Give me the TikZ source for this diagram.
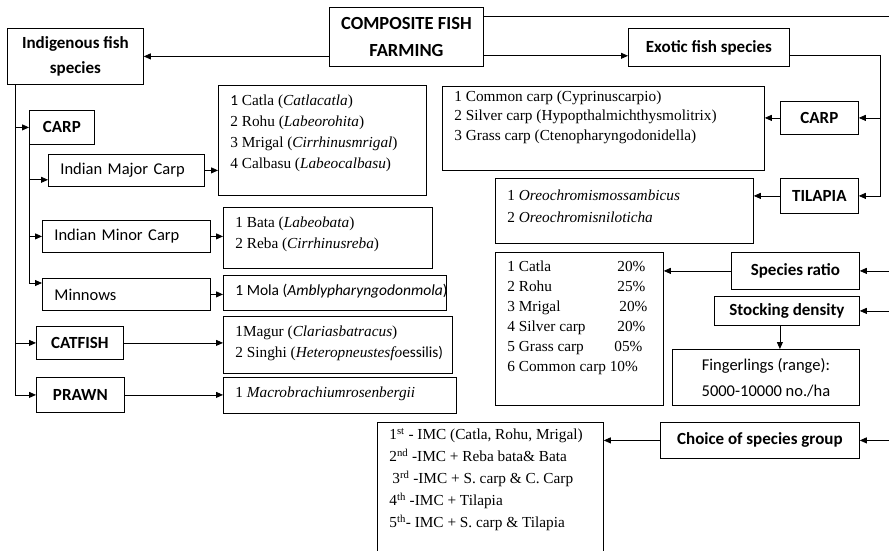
\documentclass[tikz,border=0pt]{standalone}
\usepackage{fontspec}
\setmainfont{Liberation Serif}
\newfontfamily\calibri{Carlito}
\usetikzlibrary{arrows.meta}

% top-aligned text block of fixed height inside a species box
\newcommand{\fishlist}[3]{\parbox[t][#1][t]{#2}{\raggedright\strut#3}}

\begin{document}
\begin{tikzpicture}[
  x=1pt, y=-1pt,
  box/.style={draw, line width=0.8pt, anchor=north west, inner sep=0pt},
  head/.style={box, align=center, font=\calibri\bfseries\fontsize{17}{25}\selectfont},
  note/.style={head, font=\calibri\fontsize{16.5}{26}\selectfont},
  group/.style={box, align=left, inner xsep=12pt, font=\calibri\fontsize{16.5}{20}\selectfont},
  species/.style={box, inner xsep=12pt, inner ysep=5pt, font=\fontsize{15.3}{21}\selectfont},
  feed/.style={line width=0.8pt, -{Triangle[length=7pt,width=6pt]}},
  rail/.style={line width=0.8pt}
]
  \clip (0,0) rectangle (889,550);
  \coordinate (rim) at (889,16);

  % main heads
  \node[head, font=\calibri\bfseries\fontsize{18.5}{27}\selectfont, minimum width=154pt, minimum height=59pt] (farming) at (329,7) {COMPOSITE FISH\\FARMING};
  \node[head, minimum width=136pt, minimum height=56pt] (indigenous) at (7,28) {Indigenous fish\\species};
  \node[head, minimum width=161pt, minimum height=38pt] (exotic) at (628,28) {Exotic fish species};

  % indigenous side
  \node[head, minimum width=65pt, minimum height=34pt] (carp) at (29,110) {CARP};
  \node[group, text width=132pt, minimum height=32pt] (majorcarp) at (48,154) {Indian Major Carp};
  \node[group, text width=144pt, minimum height=32pt] (minorcarp) at (42,220) {Indian Minor Carp};
  \node[group, text width=144pt, minimum height=32pt] (minnows) at (42,278) {Minnows};
  \node[head, minimum width=87pt, minimum height=33pt] (catfish) at (36,326) {CATFISH};
  \node[head, minimum width=88pt, minimum height=35pt] (prawn) at (36,377) {PRAWN};

  \node[species] (majorlist) at (218,85) {\fishlist{100pt}{184pt}{%
    {\calibri 1} Catla (\textit{Catlacatla})\\
    2 Rohu (\textit{Labeorohita})\\
    3 Mrigal (\textit{Cirrhinusmrigal})\\
    4 Calbasu (\textit{Labeocalbasu})}};
  \node[species] (minorlist) at (223,207) {\fishlist{51pt}{185pt}{%
    1 Bata (\textit{Labeobata})\\
    2 Reba (\textit{Cirrhinusreba})}};
  \node[species, font=\calibri\fontsize{15.5}{21}\selectfont] (molalist) at (223,275) {\fishlist{25pt}{199pt}{%
    \mbox{1 Mola (\textit{Amblypharyngodonmola})}}};
  \node[species] (catfishlist) at (223,316) {\fishlist{47pt}{205pt}{%
    1Magur (\textit{Clariasbatracus})\\
    \mbox{2 Singhi (\textit{Heteropneustesfo}{\calibri essilis)}}}};
  \node[species] (prawnlist) at (223,377) {\fishlist{26pt}{209pt}{%
    1 \textit{Macrobrachiumrosenbergii}}};

  % exotic side
  \node[head, minimum width=78pt, minimum height=33pt] (exocarp) at (780,101) {CARP};
  \node[head, minimum width=78pt, minimum height=35pt] (tilapia) at (780,178) {TILAPIA};
  \node[species, inner ysep=1pt, font=\fontsize{15.3}{19.5}\selectfont] (carplist) at (442,86) {\fishlist{82pt}{298pt}{%
    1 Common carp (Cyprinuscarpio)\\
    2 Silver carp (Hypopthalmichthysmolitrix)\\
    3 Grass carp (Ctenopharyngodonidella)}};
  \node[species, inner ysep=7pt, font=\fontsize{15.3}{22}\selectfont] (tilapialist) at (495,178) {\fishlist{51pt}{234pt}{%
    1 \textit{Oreochromismossambicus}\\
    2 \textit{Oreochromisniloticha}}};

  % management
  \node[head, minimum width=128pt, minimum height=37pt] (ratio) at (731,252) {Species ratio};
  \node[head, minimum width=145pt, minimum height=29pt] (stocking) at (714,296) {Stocking density};
  \node[note, minimum width=187pt, minimum height=56pt] (fingerlings) at (672,349) {Fingerlings (range):\\5000-10000 no./ha};
  \node[head, minimum width=199pt, minimum height=36pt] (choice) at (660,422) {Choice of species group};

  \node[species, font=\fontsize{15.3}{20}\selectfont] (ratiolist) at (495,252) {\fishlist{143pt}{144pt}{%
    \makebox[110pt][l]{1 Catla}20\%\\
    \makebox[110pt][l]{2 Rohu}25\%\\
    \makebox[112pt][l]{3 Mrigal}20\%\\
    \makebox[110pt][l]{4 Silver carp}20\%\\
    \makebox[107pt][l]{5 Grass carp}05\%\\
    6 Common carp 10\%}};
  \node[species, inner ysep=2pt, font=\fontsize{15.3}{22}\selectfont] (imclist) at (377,422) {\fishlist{128pt}{202pt}{%
    1\textsuperscript{st} - IMC (Catla, Rohu, Mrigal)\\
    2\textsuperscript{nd} -IMC + Reba bata\& Bata\\
    \hspace*{3pt}3\textsuperscript{rd} -IMC + S. carp \& C. Carp\\
    4\textsuperscript{th} -IMC + Tilapia\\
    5\textsuperscript{th}- IMC + S. carp \& Tilapia}};

  % connectors from the centre
  \draw[feed] (farming.west |- indigenous.east) -- (indigenous.east);
  \draw[feed] ([yshift=11pt]farming.south east) -- ([yshift=11pt]farming.south east -| exotic.west);
  \draw[rail] (farming.north east |- rim) -- (rim);

  % indigenous rails
  \coordinate (majorin) at ([yshift=7pt]majorcarp.south west);
  \draw[feed] ([xshift=8pt]indigenous.south west) |- (prawn.west);
  \draw[feed] ([xshift=8pt]indigenous.south west |- carp.west) -- (carp.west);
  \draw[feed] ([xshift=8pt]indigenous.south west |- catfish.west) -- (catfish.west);
  \draw[feed] (carp.south west) |- ([yshift=-5pt]minnows.north west);
  \draw[feed] (carp.south west |- majorin) -- (majorin);
  \draw[feed] (carp.south west |- minorcarp.west) -- (minorcarp.west);

  \path[feed]
    (majorcarp.east) edge (majorcarp.east -| majorlist.west)
    (minorcarp.east) edge (minorcarp.east -| minorlist.west)
    (minnows.east) edge (minnows.east -| molalist.west)
    (catfish.east) edge (catfish.east -| catfishlist.west)
    (prawn.east) edge (prawn.east -| prawnlist.west);

  % exotic rail
  \draw[feed] ([yshift=11pt]exotic.south east) -| ([xshift=22pt]tilapia.east) -- (tilapia.east);
  \draw[feed] ([xshift=22pt]exocarp.east) -- (exocarp.east);
  \path[feed]
    (exocarp.west) edge (exocarp.west -| carplist.east)
    (tilapia.west) edge (tilapia.west -| tilapialist.east);

  % management arrows from the right
  \draw[feed] (rim |- ratio.east) -- (ratio.east);
  \draw[feed] (rim |- stocking.east) -- (stocking.east);
  \draw[feed] (rim |- choice.east) -- (choice.east);
  \path[feed]
    (ratio.west) edge (ratio.west -| ratiolist.east)
    ([xshift=-7pt]stocking.south) edge ([xshift=-7pt]stocking.south |- fingerlings.north)
    (choice.west) edge (choice.west -| imclist.east);
\end{tikzpicture}
\end{document}
